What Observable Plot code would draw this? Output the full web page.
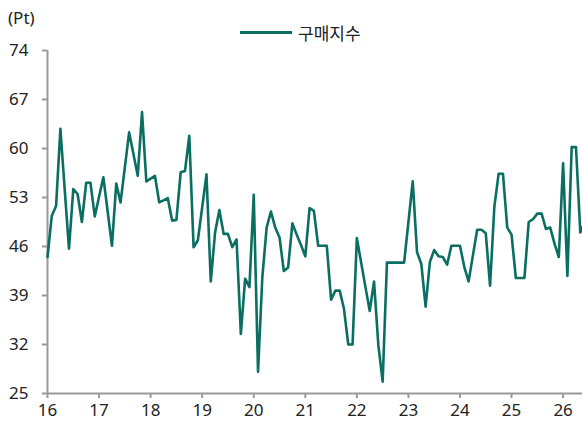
<!DOCTYPE html>
<html>
<head>
<meta charset="utf-8">
<script src="https://cdn.jsdelivr.net/npm/d3@7"></script>
<script src="https://cdn.jsdelivr.net/npm/@observablehq/plot@0.6"></script>
<style>
  html, body { margin: 0; padding: 0; background: #fff; }
  #wrap { width: 582px; height: 428px; position: relative; overflow: hidden; font-family: "Noto Sans", "Noto Sans CJK KR", sans-serif; }
  #header { position: relative; height: 28px; width: 582px; }
  #unit { position: absolute; left: 8px; top: 6px; font-size: 17px; color: #222; }
  #legend { position: absolute; left: 240px; top: 20px; display: flex; align-items: center; font-size: 17px; color: #222; font-family: "Noto Sans CJK KR", sans-serif; z-index: 2; }
  #legend .sw { width: 52px; height: 3px; background: #0a6e61; margin-right: 6px; }
  svg { display: block; }
</style>
</head>
<body>
<div id="wrap">
  <div id="header"></div>
  <div id="unit">(Pt)</div>
  <div id="legend"><span class="sw"></span><span>구매지수</span></div>
  <div id="chart"></div>
</div>
<script>
// Monthly values starting January 2016
const startYear = 2016;
const seriesName = "구매지수";
const values = [
  44.5, 50.4, 51.8, 62.8, 54.2, 45.7, 54.2, 53.5, 49.5, 55.1, 55.1, 50.3,
  53.1, 55.9, 51.0, 46.1, 55.0, 52.3, 57.3, 62.3, 59.2, 56.1, 65.2, 55.3,
  55.7, 56.1, 52.3, 52.6, 52.9, 49.7, 49.8, 56.6, 56.8, 61.8, 45.9, 46.9,
  51.6, 56.3, 41.0, 48.0, 51.2, 47.8, 47.8, 45.9, 47.0, 33.5, 41.4, 40.2,
  53.4, 28.1, 41.6, 48.7, 51.0, 48.7, 47.3, 42.5, 43.0, 49.3, 47.7, 46.2,
  44.6, 51.5, 51.1, 46.1, 46.1, 46.1, 38.4, 39.7, 39.7, 37.1, 32.0, 32.0,
  47.2, 43.7, 40.2, 36.8, 41.0, 31.9, 26.7, 43.7, 43.7, 43.7, 43.7, 43.7,
  49.5, 55.3, 45.2, 43.5, 37.4, 43.8, 45.5, 44.6, 44.5, 43.4, 46.1, 46.1,
  46.1, 43.1, 41.0, 44.7, 48.4, 48.4, 47.9, 40.4, 51.7, 56.4, 56.4, 48.7,
  47.7, 41.5, 41.5, 41.5, 49.5, 49.9, 50.7, 50.7, 48.5, 48.7, 46.4, 44.5,
  57.9, 41.8, 60.2, 60.2, 48.0, 49.5
];
const yTicks = [25, 32, 39, 46, 53, 60, 67, 74];
const xTicks = [2016, 2017, 2018, 2019, 2020, 2021, 2022, 2023, 2024, 2025, 2026];
const xTickLabels = ["16", "17", "18", "19", "20", "21", "22", "23", "24", "25", "26"];

const data = values.map((v, i) => ({ t: startYear + i / 12, v, series: seriesName }));

const marginLeft = 47;
const width = 582;
const pxPerYear = 51.56;
const xMax = startYear + (width - marginLeft) / pxPerYear;

const chart = Plot.plot({
  width: width,
  height: 400,
  marginTop: 22,
  marginBottom: 35,
  marginLeft: marginLeft,
  marginRight: 0,
  style: { fontFamily: "'Noto Sans', sans-serif", fontSize: "17px", color: "#222", background: "transparent" },
  x: { domain: [startYear, xMax] },
  y: { domain: [25, 74] },
  marks: [
    Plot.axisY({ ticks: yTicks, tickSize: 5, tickPadding: 14, stroke: "#999", strokeWidth: 2, fill: "#222", label: null, fontSize: 17 }),
    Plot.axisX({ ticks: xTicks, tickFormat: (d) => xTickLabels[xTicks.indexOf(d)], tickSize: 5, tickPadding: 5, stroke: "#999", strokeWidth: 2, fill: "#222", label: null, fontSize: 17 }),
    Plot.ruleX([startYear], { y1: 25, y2: 74, stroke: "#999", strokeWidth: 2 }),
    Plot.ruleY([25], { stroke: "#999", strokeWidth: 2 }),
    Plot.line(data, { x: "t", y: "v", stroke: "#0a6e61", strokeWidth: 2.6, strokeLinejoin: "round" })
  ]
});
document.getElementById("chart").appendChild(chart);
</script>
</body>
</html>
